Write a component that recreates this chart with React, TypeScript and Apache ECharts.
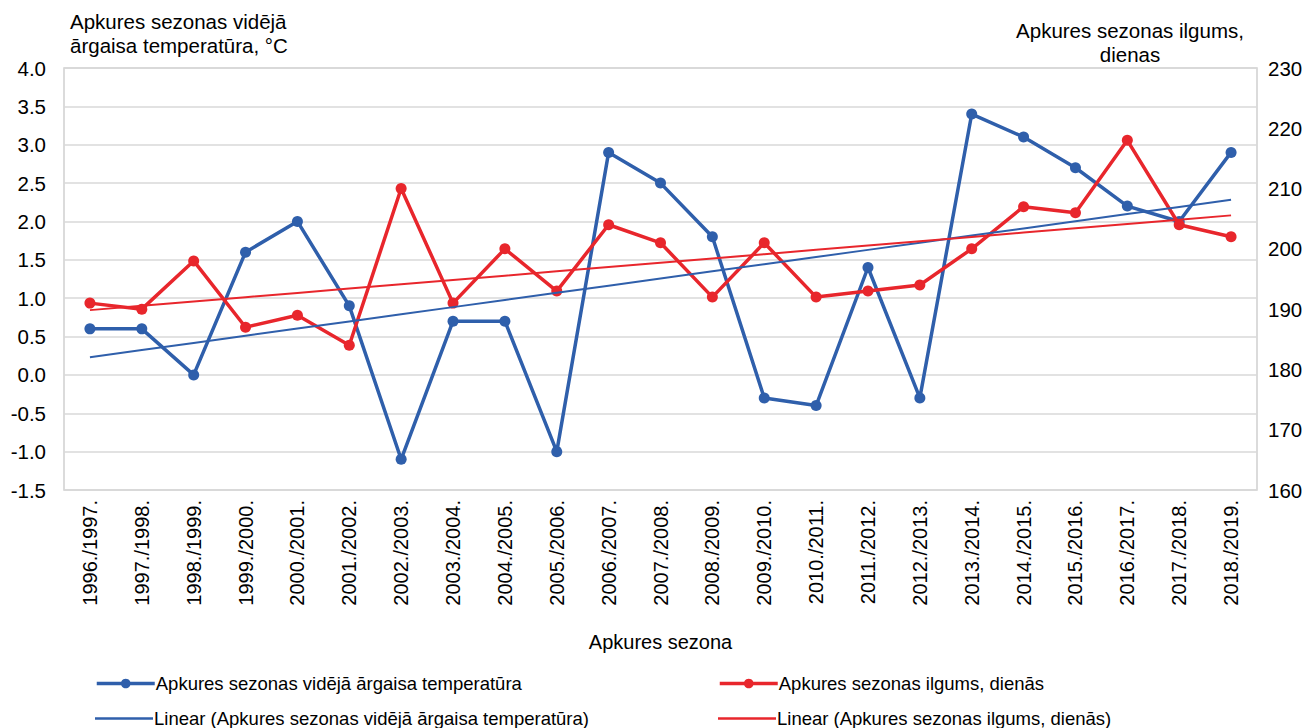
import React, { useEffect, useRef } from "react";
import * as echarts from "echarts";

const categories = [
  "1996./1997.", "1997./1998.", "1998./1999.", "1999./2000.", "2000./2001.", "2001./2002.",
  "2002./2003.", "2003./2004.", "2004./2005.", "2005./2006.", "2006./2007.", "2007./2008.",
  "2008./2009.", "2009./2010.", "2010./2011.", "2011./2012.", "2012./2013.", "2013./2014.",
  "2014./2015.", "2015./2016.", "2016./2017.", "2017./2018.", "2018./2019.",
];
const temperature = [0.6, 0.6, 0.0, 1.6, 2.0, 0.9, -1.1, 0.7, 0.7, -1.0, 2.9, 2.5, 1.8, -0.3, -0.4, 1.4, -0.3, 3.4, 3.1, 2.7, 2.2, 2.0, 2.9];
const duration = [191, 190, 198, 187, 189, 184, 210, 191, 200, 193, 204, 201, 192, 201, 192, 193, 194, 200, 207, 206, 218, 204, 202];

const leftName = "Apkures sezonas vidējā\nārgaisa temperatūra, °C";
const rightName = "Apkures sezonas ilgums,\ndienas";
const xName = "Apkures sezona";
const nTemp = "Apkures sezonas vidējā ārgaisa temperatūra";
const nDur = "Apkures sezonas ilgums, dienās";
const nTempLin = "Linear (Apkures sezonas vidējā ārgaisa temperatūra)";
const nDurLin = "Linear (Apkures sezonas ilgums, dienās)";

function linearFit(v: number[]): number[] {
  const n = v.length;
  let sx = 0, sy = 0, sxx = 0, sxy = 0;
  v.forEach((y, i) => { sx += i; sy += y; sxx += i * i; sxy += i * y; });
  const b = (n * sxy - sx * sy) / (n * sxx - sx * sx);
  const a = (sy - b * sx) / n;
  return v.map((_, i) => a + b * i);
}

const BLUE = "#2F5FAB";
const RED = "#E8262C";
const FONT = "Liberation Sans, Arial, sans-serif";

export default function App() {
  const ref = useRef<HTMLDivElement>(null);
  useEffect(() => {
    const chart = echarts.init(ref.current!, null, { renderer: "svg" });
    const textStyle = { fontFamily: FONT, fontSize: 18.5, color: "#000", padding: [0, 0, 0, -4] };
    const markerLegend = {
      itemWidth: 58, itemHeight: 12, itemGap: 0, padding: 0, textStyle,
      lineStyle: { width: 3.5 },
    };
    const lineLegend = {
      itemWidth: 58, itemHeight: 2.5, itemGap: 0, padding: 0, textStyle, icon: "rect",
    };
    chart.setOption({
      animation: false,
      textStyle: { fontFamily: FONT },
      grid: { left: 64, right: 57, top: 68, bottom: 238, show: true, borderColor: "#d0d0d0", borderWidth: 1.5 },
      legend: [
        { ...markerLegend, data: [nTemp], left: 95, top: 674 },
        { ...markerLegend, data: [nDur], left: 718, top: 674 },
        { ...lineLegend, data: [nTempLin], left: 95, top: 709 },
        { ...lineLegend, data: [nDurLin], left: 718, top: 709 },
      ],
      xAxis: {
        type: "category",
        data: categories,
        boundaryGap: true,
        axisLine: { show: false },
        axisTick: { show: false },
        axisLabel: { rotate: 90, fontSize: 20, color: "#000", fontFamily: FONT, margin: 10, interval: 0 },
        name: xName,
        nameLocation: "middle",
        nameGap: 142,
        nameTextStyle: { fontSize: 20, color: "#000", fontFamily: FONT },
      },
      yAxis: [
        {
          type: "value",
          min: -1.5,
          max: 4.0,
          interval: 0.5,
          axisLine: { show: false },
          axisTick: { show: false },
          splitLine: { lineStyle: { color: "#d9d9d9", width: 1.5 } },
          axisLabel: { fontSize: 20.5, color: "#000", fontFamily: FONT, margin: 18, formatter: (v: number) => v.toFixed(1) },
        },
        {
          type: "value",
          min: 160,
          max: 230,
          interval: 10,
          position: "right",
          axisLine: { show: false },
          axisTick: { show: false },
          splitLine: { show: false },
          axisLabel: { fontSize: 20.5, color: "#000", fontFamily: FONT, margin: 11 },
        },
      ],
      graphic: [
        { type: "text", left: 70, top: 9, style: { text: leftName, fontSize: 20.5, fontFamily: FONT, fill: "#000", lineHeight: 24 } },
        { type: "text", x: 1130, y: 18, style: { text: rightName, fontSize: 20.5, fontFamily: FONT, fill: "#000", lineHeight: 24, textAlign: "center", align: "center", textVerticalAlign: "top", verticalAlign: "top" } },
      ],
      series: [
        {
          name: nTemp, type: "line", data: temperature, yAxisIndex: 0,
          symbol: "circle", symbolSize: 11,
          lineStyle: { color: BLUE, width: 3.5 }, itemStyle: { color: BLUE }, z: 3,
        },
        {
          name: nDur, type: "line", data: duration, yAxisIndex: 1,
          symbol: "circle", symbolSize: 11,
          lineStyle: { color: RED, width: 3.5 }, itemStyle: { color: RED }, z: 4,
        },
        {
          name: nTempLin, type: "line", data: linearFit(temperature), yAxisIndex: 0,
          symbol: "none", lineStyle: { color: BLUE, width: 2 }, itemStyle: { color: BLUE }, z: 5,
        },
        {
          name: nDurLin, type: "line", data: linearFit(duration), yAxisIndex: 1,
          symbol: "none", lineStyle: { color: RED, width: 2 }, itemStyle: { color: RED }, z: 5,
        },
      ],
    });
    return () => chart.dispose();
  }, []);
  return <div ref={ref} style={{ width: 1314, height: 728, position: "absolute", left: 0, top: 0 }} />;
}
